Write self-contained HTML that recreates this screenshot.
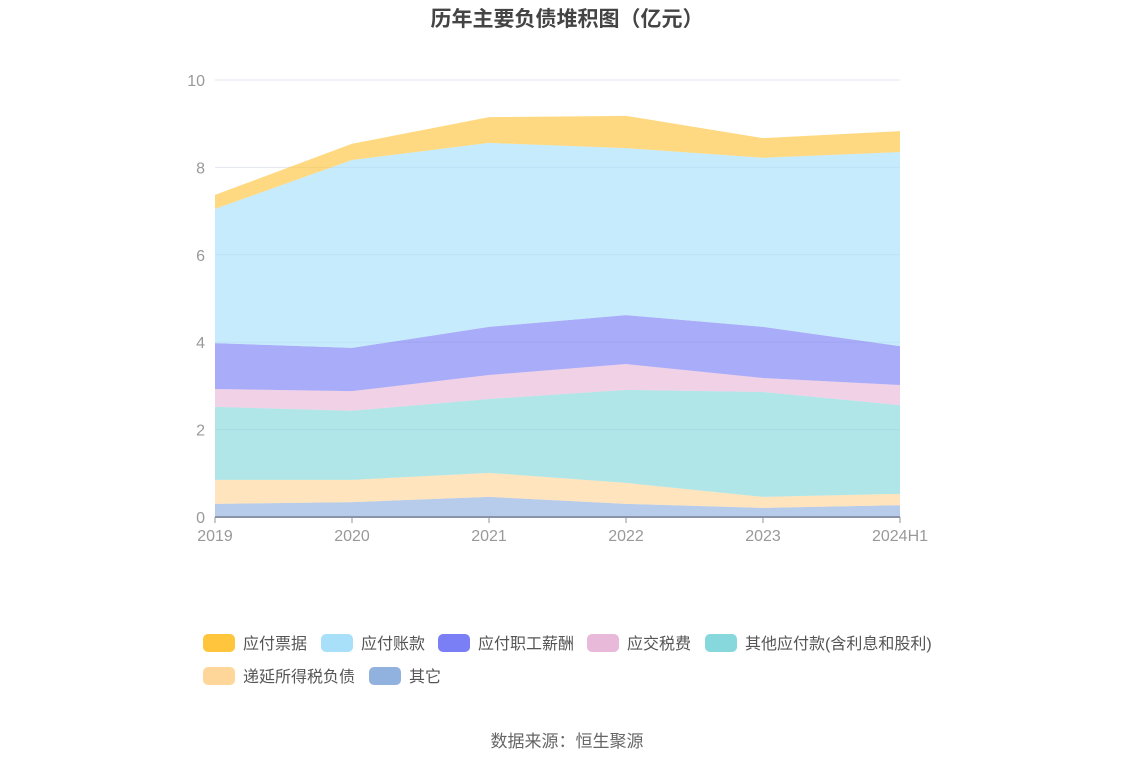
<!DOCTYPE html>
<html><head><meta charset="utf-8"><style>
body{margin:0;background:#fff;font-family:"Liberation Sans","Noto Sans CJK SC",sans-serif;}
svg text{font-family:"Liberation Sans","Noto Sans CJK SC",sans-serif;}
</style></head><body>
<svg id="c" width="1134" height="766">
<text x="567" y="26" text-anchor="middle" font-size="21" font-weight="bold" fill="#444">历年主要负债堆积图（亿元）</text>
<g id="grid"></g><g id="areas"></g><g id="axes"></g><g id="legend"></g>
<text x="567" y="747" text-anchor="middle" font-size="17" fill="#666">数据来源：恒生聚源</text>
</svg>
<script>
const categories=["2019","2020","2021","2022","2023","2024H1"];
const seriesNames=["其它","递延所得税负债","其他应付款(含利息和股利)","应交税费","应付职工薪酬","应付账款","应付票据"];
const other=[0.30,0.34,0.46,0.30,0.21,0.27];
const deferredTax=[0.55,0.51,0.55,0.48,0.25,0.26];
const otherPayables=[1.67,1.58,1.69,2.13,2.40,2.03];
const taxes=[0.41,0.45,0.55,0.59,0.32,0.46];
const salaries=[1.05,0.99,1.10,1.12,1.17,0.89];
const accountsPayable=[3.07,4.30,4.21,3.82,3.87,4.44];
const notesPayable=[0.32,0.37,0.59,0.74,0.45,0.48];
const yTicks=[0,2,4,6,8,10];
const series=[other,deferredTax,otherPayables,taxes,salaries,accountsPayable,notesPayable];
const fills=["#91b1df","#ffd699","#86d8dc","#e8b9d9","#7b7ff5","#a8e0fa","#ffc53d"];
const ns="http://www.w3.org/2000/svg";
const X0=215,X1=900,Y0=517,Y1=80;
const x=i=>X0+(X1-X0)*i/(categories.length-1);
const y=v=>Y0-(Y0-Y1)*v/10;
function mk(t,a,p){const e=document.createElementNS(ns,t);for(const k in a)e.setAttribute(k,a[k]);p.appendChild(e);return e;}
const grid=document.getElementById('grid'),areas=document.getElementById('areas'),axes=document.getElementById('axes'),legend=document.getElementById('legend');
yTicks.forEach(t=>{
 const l=mk('line',{x1:X0,x2:X1,y1:y(t),y2:y(t),stroke:'#e3e6f0'},grid);
 
 
 const tx=mk('text',{x:205,y:y(t)+6,'text-anchor':'end','font-size':16,fill:'#999'},grid);
 tx.textContent=t;
 
 
});
let base=categories.map(()=>0);
series.forEach((s,si)=>{
 const top=base.map((b,i)=>b+s[i]);
 let d='M'+top.map((v,i)=>x(i)+','+y(v)).join(' L');
 for(let i=categories.length-1;i>=0;i--)d+=' L'+x(i)+','+y(base[i]);
 const p=mk('path',{d:d+'Z',fill:fills[si],'fill-opacity':0.65},areas);
 
 
 base=top;
});
const ax=mk('line',{x1:X0,x2:X1,y1:Y0,y2:Y0,stroke:'#8a94a6','stroke-width':2},axes);


categories.forEach((c,i)=>{
 const tk=mk('line',{x1:x(i),x2:x(i),y1:Y0,y2:Y0+6,stroke:'#8a94a6'},axes);
 
 
 const t=mk('text',{x:x(i),y:Y0+24,'text-anchor':'middle','font-size':16,fill:'#999'},axes);
 t.textContent=c;
 
 
});
const legItems=[[6,203,643],[5,321,643],[4,438,643],[3,587,643],[2,705,643],[1,203,676],[0,369,676]];
const legNames=["其它","递延所得税负债","其他应付款(含利息和股利)","应交税费","应付职工薪酬","应付账款","应付票据"];
legItems.forEach(([si,lx,ly])=>{
 const g=mk('g',{},legend);
 
 
 mk('rect',{x:lx,y:ly-9,width:32,height:18,rx:5,fill:fills[si]},g);
 const t=mk('text',{x:lx+40,y:ly+6,'font-size':16,fill:'#555'},g);
 t.textContent=legNames[si];
});
</script>
</body></html>
